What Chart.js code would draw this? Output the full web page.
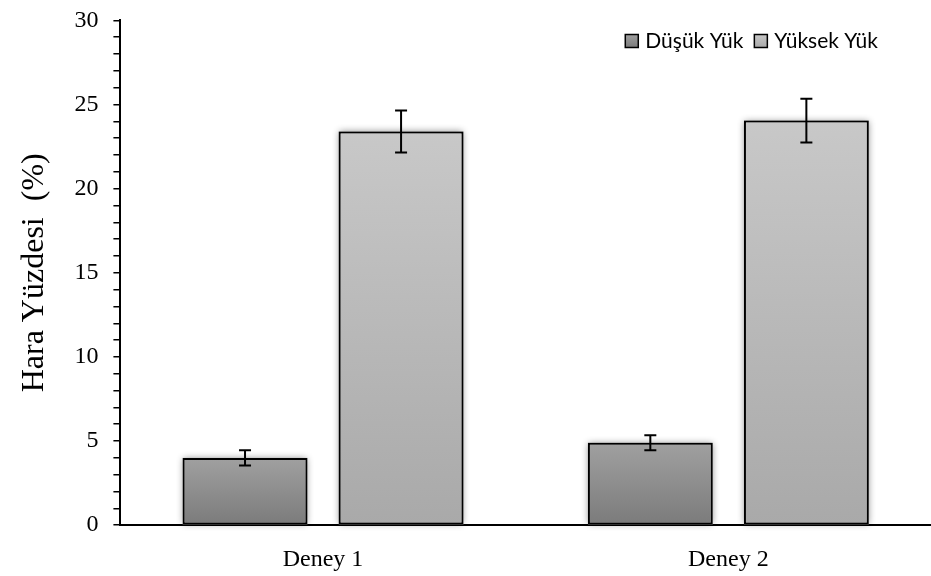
<!DOCTYPE html>
<html>
<head>
<meta charset="utf-8">
<script src="https://cdn.jsdelivr.net/npm/chart.js@4.4.1/dist/chart.umd.min.js"></script>
<style>
  body { margin: 0; background: #fff; }
  #wrap { width: 931px; height: 576px; }
</style>
</head>
<body>
<div id="wrap"><canvas id="myChart"></canvas></div>
<script>
var deneyler = ["Deney 1", "Deney 2"];
var seriler = ["Düşük Yük", "Yüksek Yük"];
var dusukYuk = [4.0, 4.9];
var yuksekYuk = [23.4, 24.05];
var dusukHata = [0.45, 0.45];
var yuksekHata = [1.25, 1.3];

// renkler: [ust, alt]
var renkDusuk = ["#a0a0a0", "#7b7b7b"];
var renkYuksek = ["#c8c8c8", "#a9a9a9"];

function gradyan(renkler) {
  return function (context) {
    var chart = context.chart;
    var alan = chart.chartArea;
    if (!alan || context.type !== "data") return renkler[1];
    var yPix = chart.scales.y.getPixelForValue(context.raw);
    var g = chart.ctx.createLinearGradient(0, yPix, 0, alan.bottom);
    g.addColorStop(0, renkler[0]);
    g.addColorStop(1, renkler[1]);
    return g;
  };
}

// golge (bar elemani kendi kutusuna kirptigi icin ayri ciziliyor) + hata cubuklari
var hataCubugu = {
  id: "hataCubugu",
  beforeDatasetsDraw: function (chart) {
    var ctx = chart.ctx;
    ctx.save();
    ctx.shadowColor = "rgba(0,0,0,0.45)";
    ctx.shadowBlur = 7;
    ctx.fillStyle = "#999";
    chart.data.datasets.forEach(function (ds, i) {
      chart.getDatasetMeta(i).data.forEach(function (bar) {
        var p = bar.getProps(["x", "y", "base", "width"], true);
        ctx.fillRect(p.x - p.width / 2, p.y, p.width, p.base - p.y);
      });
    });
    ctx.restore();
  },
  afterDatasetsDraw: function (chart) {
    var ctx = chart.ctx;
    var y = chart.scales.y;
    ctx.save();
    ctx.strokeStyle = "#000";
    ctx.lineWidth = 2;
    chart.data.datasets.forEach(function (ds, i) {
      var meta = chart.getDatasetMeta(i);
      meta.data.forEach(function (bar, j) {
        var v = ds.data[j];
        var e = ds.hata[j];
        var ust = y.getPixelForValue(v + e);
        var alt = y.getPixelForValue(v - e);
        ctx.beginPath();
        ctx.moveTo(bar.x, ust);
        ctx.lineTo(bar.x, alt);
        ctx.moveTo(bar.x - 6, ust);
        ctx.lineTo(bar.x + 6, ust);
        ctx.moveTo(bar.x - 6, alt);
        ctx.lineTo(bar.x + 6, alt);
        ctx.stroke();
      });
    });
    ctx.restore();
  },
};

// lejant, grafik alaninin sag ustunde
var lejant = {
  id: "lejant",
  afterDraw: function (chart) {
    var ctx = chart.ctx;
    var renkler = [renkDusuk, renkYuksek];
    var kutu = 13;
    ctx.save();
    ctx.font = "21px Lato";
    ctx.textBaseline = "middle";
    var genislik = 0;
    chart.data.datasets.forEach(function (ds, i) {
      genislik += kutu + 7 + ctx.measureText(ds.label).width + (i > 0 ? 11 : 0);
    });
    var x = 878 - genislik;
    var yOrta = 41;
    chart.data.datasets.forEach(function (ds, i) {
      if (i > 0) x += 11;
      var g = ctx.createLinearGradient(0, yOrta - kutu / 2, 0, yOrta + kutu / 2);
      g.addColorStop(0, renkler[i][0]);
      g.addColorStop(1, renkler[i][1]);
      ctx.fillStyle = g;
      ctx.fillRect(x, yOrta - kutu / 2, kutu, kutu);
      ctx.strokeStyle = "#000";
      ctx.lineWidth = 1.5;
      ctx.strokeRect(x, yOrta - kutu / 2, kutu, kutu);
      x += kutu + 7;
      ctx.fillStyle = "#000";
      ctx.fillText(ds.label, x, yOrta);
      x += ctx.measureText(ds.label).width;
    });
    ctx.restore();
  },
};

const ctx = document.getElementById("myChart");

var myChart = new Chart(ctx, {
  type: "bar",
  data: {
    labels: deneyler,
    datasets: [
      {
        label: seriler[0],
        data: dusukYuk,
        hata: dusukHata,
        backgroundColor: gradyan(renkDusuk),
        borderColor: "#000",
        borderWidth: 2,
        borderSkipped: false,
      },
      {
        label: seriler[1],
        data: yuksekYuk,
        hata: yuksekHata,
        backgroundColor: gradyan(renkYuksek),
        borderColor: "#000",
        borderWidth: 2,
        borderSkipped: false,
      },
    ],
  },
  options: {
    responsive: true,
    maintainAspectRatio: false,
    animation: false,
    categoryPercentage: 0.77,
    barPercentage: 0.8,
    layout: { padding: { top: 0, right: -8, bottom: -10, left: 11 } },
    plugins: {
      tooltip: { enabled: false },
      legend: { display: false },
    },
    scales: {
      x: {
        grid: { display: false },
        border: { display: true, color: "#000", width: 2 },
        ticks: {
          color: "#000",
          padding: 12,
          font: { family: "Liberation Serif", size: 24 },
        },
      },
      y: {
        min: 0,
        max: 30,
        grid: {
          drawOnChartArea: false,
          drawTicks: true,
          tickLength: 7,
          color: "#000",
          lineWidth: 1.5,
        },
        border: { display: true, color: "#000", width: 2 },
        ticks: {
          stepSize: 1,
          autoSkip: false,
          color: "#000",
          padding: 15,
          font: { family: "Liberation Serif", size: 24, lineHeight: 0.45 },
          callback: function (value) {
            return value % 5 === 0 ? value : "";
          },
        },
        title: {
          display: true,
          text: "Hara Yüzdesi  (%)",
          color: "#000",
          padding: { top: 4, bottom: 6 },
          font: { family: "Liberation Serif", size: 32 },
        },
      },
    },
  },
  plugins: [hataCubugu, lejant],
});
</script>
</body>
</html>
